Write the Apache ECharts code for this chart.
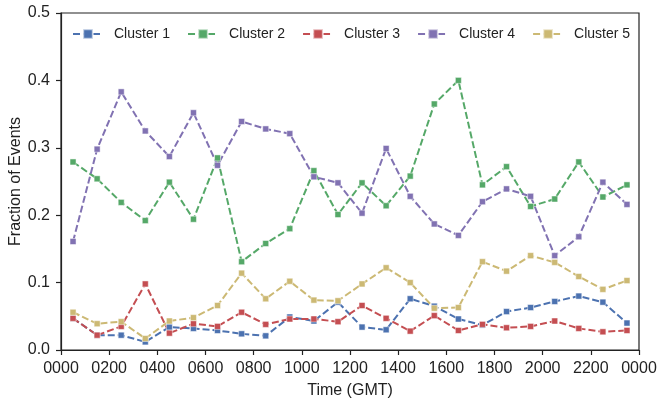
<!DOCTYPE html>
<html>
<head>
<meta charset="utf-8">
<script src="https://cdn.jsdelivr.net/npm/echarts@6/dist/echarts.min.js"></script>
<style>html,body{margin:0;padding:0;background:#fff}#c{width:664px;height:405px}</style>
</head>
<body>
<div id="c"></div>
<script>
const times = [50,150,250,350,450,550,650,750,850,950,1050,1150,1250,1350,1450,1550,1650,1750,1850,1950,2050,2150,2250,2350];
const seriesNames = ['Cluster 1','Cluster 2','Cluster 3','Cluster 4','Cluster 5'];
const cluster1 = [0.047,0.022,0.022,0.012,0.034,0.032,0.029,0.024,0.021,0.049,0.043,0.071,0.034,0.030,0.076,0.065,0.046,0.037,0.057,0.063,0.072,0.080,0.071,0.040];
const cluster2 = [0.279,0.254,0.219,0.192,0.249,0.194,0.285,0.131,0.158,0.180,0.266,0.201,0.248,0.214,0.258,0.365,0.400,0.245,0.272,0.213,0.224,0.279,0.227,0.245];
const cluster3 = [0.047,0.022,0.035,0.098,0.025,0.039,0.035,0.056,0.038,0.046,0.046,0.042,0.066,0.047,0.028,0.051,0.029,0.038,0.033,0.035,0.043,0.032,0.027,0.029];
const cluster4 = [0.161,0.298,0.383,0.325,0.287,0.352,0.274,0.339,0.328,0.321,0.257,0.248,0.203,0.299,0.228,0.187,0.170,0.220,0.239,0.228,0.140,0.168,0.249,0.216];
const cluster5 = [0.056,0.039,0.042,0.017,0.043,0.048,0.066,0.114,0.076,0.102,0.074,0.073,0.098,0.122,0.100,0.062,0.063,0.131,0.117,0.140,0.130,0.109,0.090,0.103];
const colors = ['#4C72B0','#55A868','#C44E52','#8172B2','#CCB974'];
const allValues = [cluster1, cluster2, cluster3, cluster4, cluster5];

const chart = echarts.init(document.getElementById('c'), null, {renderer:'canvas'});
const font = 'Liberation Sans, Arial, Helvetica, sans-serif';
chart.setOption({
  animation: false,
  color: colors,
  grid: {left: 61, right: 25, top: 13, bottom: 55, containLabel: false, outerBoundsMode: 'none',
    show: true, borderColor: '#222', borderWidth: 1.2, backgroundColor: 'transparent'},
  legend: {
    left: 67, top: 22, itemWidth: 30, itemHeight: 12, itemGap: 17,
    textStyle: {fontFamily: font, fontSize: 14, color: '#222', padding: [0,0,0,6]},
    data: seriesNames
  },
  xAxis: {
    type: 'value', min: 0, max: 2400, interval: 200,
    name: 'Time (GMT)', nameLocation: 'middle', nameGap: 33, nameMoveOverlap: false,
    nameTextStyle: {fontFamily: font, fontSize: 16, color: '#222'},
    axisLine: {show: true, lineStyle: {color: '#222', width: 1.2}},
    axisTick: {show: true, inside: false, length: 5, lineStyle: {color: '#222', width: 1.2}},
    axisLabel: {fontFamily: font, fontSize: 16, color: '#222', margin: 11,
      formatter: v => String(v % 2400).padStart(4, '0')},
    splitLine: {show: false}
  },
  yAxis: {
    type: 'value', min: 0, max: 0.5, interval: 0.1,
    name: 'Fraction of Events', nameLocation: 'middle', nameGap: 37, nameMoveOverlap: false,
    nameTextStyle: {fontFamily: font, fontSize: 16, color: '#222'},
    axisLine: {show: true, lineStyle: {color: '#222', width: 1.2}},
    axisTick: {show: true, inside: false, length: 5, lineStyle: {color: '#222', width: 1.2}},
    axisLabel: {fontFamily: font, fontSize: 16, color: '#222', margin: 11,
      formatter: v => v.toFixed(1)},
    splitLine: {show: false}
  },
  series: seriesNames.map((n, i) => ({
    name: n, type: 'line',
    data: times.map((t, j) => [t, allValues[i][j]]),
    symbol: 'rect', symbolSize: 6, showSymbol: true,
    lineStyle: {width: 2, type: [7, 3], color: colors[i]},
    itemStyle: {color: colors[i], borderColor: 'rgba(255,255,255,0.6)', borderWidth: 0.8},
    emphasis: {disabled: true}
  }))
});
</script>
</body>
</html>
